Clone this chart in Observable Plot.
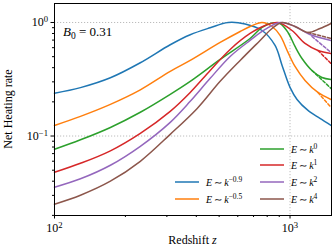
<!DOCTYPE html>
<html>
<head>
<meta charset="utf-8">
<script src="https://cdn.jsdelivr.net/npm/d3@7"></script>
<script src="https://cdn.jsdelivr.net/npm/@observablehq/plot@0.6"></script>
<style>
  html, body { margin: 0; padding: 0; background: #fff; }
  #chart svg { font-family: "Liberation Serif", "DejaVu Serif", serif; }
</style>
</head>
<body>
<div id="chart"></div>
<script>
// ---- data ----
const seriesNames = ["E~k^-0.9", "E~k^-0.5", "E~k^0", "E~k^1", "E~k^2", "E~k^4"];
const seriesColors = ["#1f77b4", "#ff7f0e", "#2ca02c", "#d62728", "#9467bd", "#8c564b"];
const legendExponents = ["−0.9", "−0.5", "0", "1", "2", "4"];

const zBlue = [100,128.9,172.7,231.4,310,376.9,458.1,546.2,644.7,761,864,925.2,1000,1071,1192,1340,1492];
const vBlue = [.238,.267,.326,.442,.637,.780,.898,1,.970,.850,.628,.419,.268,.210,.168,.143,.124];

const zOrange = [100,128.9,172.7,231.4,310,376.9,505.1,614.1,676.8,761,838.8,907.3,980.6,1050,1158,1314,1492];
const vOrange = [.124,.149,.190,.255,.371,.463,.667,.833,.922,1,.922,.769,.545,.410,.309,.242,.210];
const zOrangeDash = [1314,1492];
const vOrangeDash = [.242,.179];

const zGreen = [100,128.9,172.7,231.4,310,376.9,505.1,676.8,761,838.8,907.3,980.6,1050,1124,1239,1366,1492];
const vGreen = [.0764,.0926,.119,.162,.233,.303,.473,.723,.904,.990,.980,.817,.615,.482,.378,.328,.315];
const zGreenDash = [1239,1492];
const vGreenDash = [.378,.263];

const zRed = [100,128.9,172.7,231.4,310,376.9,458.1,556.9,676.8,783.7,889.7,1019.7,1158,1314,1492];
const vRed = [.0479,.0575,.0741,.1056,.165,.242,.378,.579,.800,.941,1,.850,.654,.567,.534];
const zRedDash = [1314,1492];
const vRedDash = [.567,.436];

const zPurple = [100,128.9,172.7,231.4,310,376.9,458.1,556.9,676.8,783.7,907.3,1050,1215,1492];
const vPurple = [.0354,.0420,.0553,.0812,.132,.202,.322,.502,.695,.868,1,.922,.784,.695];
const zPurpleDash = [1239,1492];
const vPurpleDash = [.753,.545];

const zBrown = [100,128.9,172.7,231.4,310,403.6,505.1,614.1,746.3,838.8,925.2,1050,1192,1340,1492];
const vBrown = [.0251,.0301,.0400,.0599,.1035,.175,.303,.463,.695,.885,1,.922,.817,.885,.980];
const zBrownDash = [1192,1492];
const vBrownDash = [.817,.723];

const yMajorTicks = [1, 0.1];
const yMinorTicks = [0.02,0.03,0.04,0.05,0.06,0.07,0.08,0.09,0.2,0.3,0.4,0.5,0.6,0.7,0.8,0.9];
const xMajorTicks = [100, 1000];
const xMinorTicks = [200,300,400,500,600,700,800,900];
const gridY = [1, 0.1];
const gridX = [1000];

// ---- build tables ----
const solid = [[zBlue,vBlue],[zOrange,vOrange],[zGreen,vGreen],[zRed,vRed],[zPurple,vPurple],[zBrown,vBrown]];
const dashed = [null,[zOrangeDash,vOrangeDash],[zGreenDash,vGreenDash],[zRedDash,vRedDash],[zPurpleDash,vPurpleDash],[zBrownDash,vBrownDash]];
const toRows = (pair, i) => pair ? pair[0].map((z, j) => ({z, v: pair[1][j], s: seriesNames[i]})) : [];

const marks = [
  Plot.ruleY(gridY, {stroke: "#bdbdbd", strokeWidth: 1, strokeDasharray: "1.2,1.8"}),
  Plot.ruleX(gridX, {stroke: "#bdbdbd", strokeWidth: 1, strokeDasharray: "1.2,1.8"}),
];
solid.forEach((pair, i) => {
  marks.push(Plot.line(toRows(pair, i), {x: "z", y: "v", stroke: seriesColors[i], strokeWidth: 1.5, curve: "catmull-rom"}));
});
dashed.forEach((pair, i) => {
  if (pair) marks.push(Plot.line(toRows(pair, i), {x: "z", y: "v", stroke: seriesColors[i], strokeWidth: 1.5, strokeDasharray: "3,2", curve: "catmull-rom"}));
});
marks.push(
  Plot.axisY(yMinorTicks, {tickSize: 2, tickFormat: () => "", stroke: "#000"}),
  Plot.axisY(yMajorTicks, {tickSize: 3.5, tickPadding: 3, stroke: "#000", fontSize: 12,
    tickFormat: d => "10^" + String(Math.round(Math.log10(d))).replace("-", "−")}),
  Plot.axisX(xMinorTicks, {tickSize: 2, tickFormat: () => "", stroke: "#000"}),
  Plot.axisX(xMajorTicks, {tickSize: 3.5, tickPadding: 4, stroke: "#000", fontSize: 12,
    tickFormat: d => "10^" + Math.round(Math.log10(d))}),
  Plot.frame({stroke: "#000", strokeWidth: 1})
);

const chart = Plot.plot({
  width: 334,
  height: 250,
  marginLeft: 54,
  marginRight: 3,
  marginTop: 3,
  marginBottom: 35,
  style: {fontFamily: "'Liberation Serif', serif", fontSize: "12px", color: "#000", background: "#fff"},
  x: {type: "log", domain: [100, 1500], label: null},
  y: {type: "log", domain: [0.01995, 1.47], label: null},
  marks
});
document.getElementById("chart").appendChild(chart);

const svg = d3.select(chart);
// superscript tick labels
svg.selectAll("text").each(function() {
  const t = d3.select(this);
  const tspans = t.selectAll("tspan");
  const target = tspans.empty() ? t : tspans;
  target.each(function() {
    const el = d3.select(this);
    const s = el.text();
    if (s.startsWith("10^")) {
      el.text("10");
      el.append("tspan").attr("dy", "-0.45em").attr("font-size", "0.72em").text(s.slice(3));
    }
  });
});

const L = 54, R = 331, T = 3, B = 215;
const ann = svg.append("g").attr("font-family", "'Liberation Serif', serif").attr("fill", "#000").attr("text-anchor", "start");
// axis titles
ann.append("text").attr("transform", `translate(12,${(T + B) / 2}) rotate(-90)`)
  .attr("text-anchor", "middle").attr("font-size", 12).text("Net Heating rate");
const xl = ann.append("text").attr("x", (L + R) / 2).attr("y", 244).attr("text-anchor", "middle").attr("font-size", 12);
xl.append("tspan").text("Redshift ");
xl.append("tspan").attr("font-style", "italic").text("z");
// B0 annotation
const b0 = ann.append("text").attr("x", 63).attr("y", 36).attr("font-size", 13).attr("text-anchor", "start");
b0.append("tspan").attr("font-style", "italic").text("B");
b0.append("tspan").attr("dy", 3).attr("font-size", 9.5).text("0");
b0.append("tspan").attr("dy", -3).text(" = 0.31");

// legend
const legendPos = [[175, 182], [175, 199], [260, 149], [260, 165], [260, 182], [260, 199]];
seriesNames.forEach((name, i) => {
  const [lx, ly] = legendPos[i];
  const g = ann.append("g");
  g.append("line").attr("x1", lx).attr("x2", lx + 24).attr("y1", ly).attr("y2", ly)
    .attr("stroke", seriesColors[i]).attr("stroke-width", 1.5);
  const t = g.append("text").attr("x", lx + 31).attr("y", ly + 3.5).attr("font-size", 10).attr("text-anchor", "start");
  t.append("tspan").attr("font-style", "italic").text("E");
  t.append("tspan").text("\u2009∼\u2009");
  t.append("tspan").attr("font-style", "italic").text("k");
  t.append("tspan").attr("dy", -4).attr("font-size", 7.5).text(legendExponents[i]);
});
</script>
</body>
</html>
